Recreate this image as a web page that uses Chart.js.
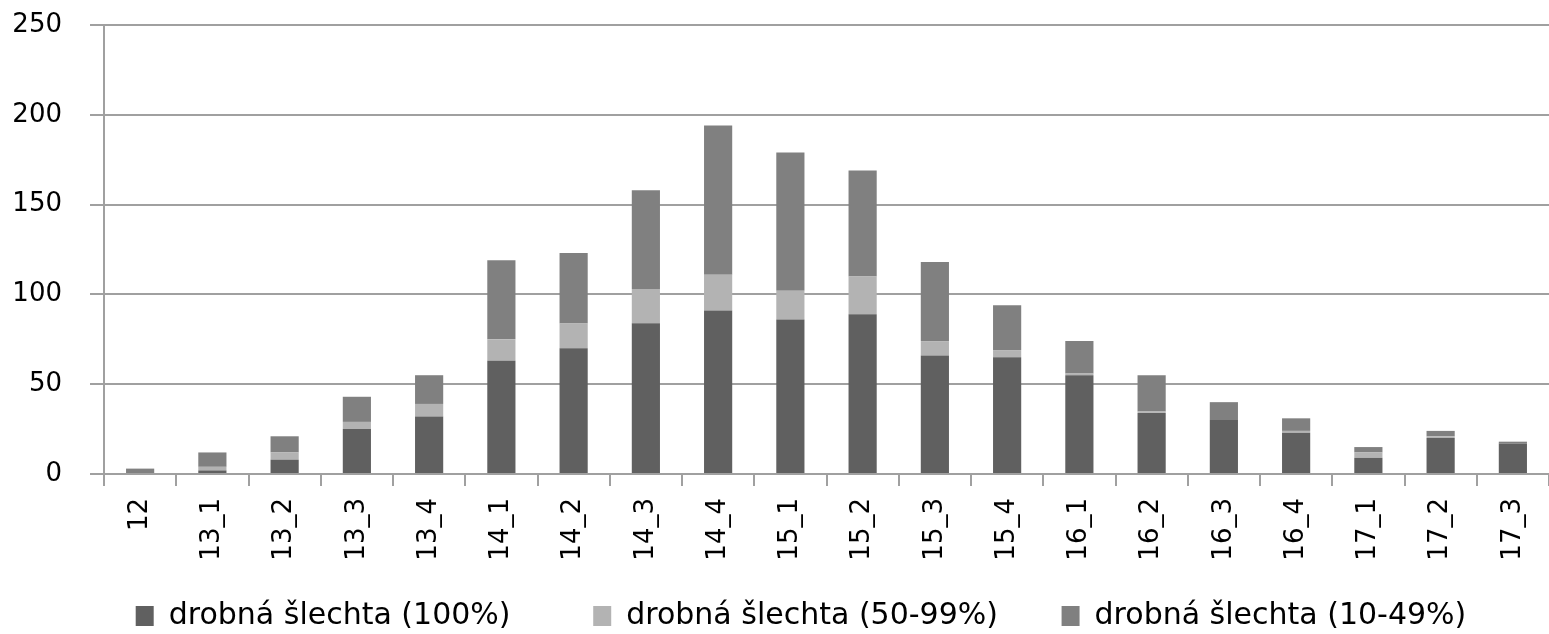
<!DOCTYPE html>
<html>
<head>
<meta charset="utf-8">
<script src="https://cdn.jsdelivr.net/npm/chart.js@4"></script>
<style>
  html, body { margin: 0; padding: 0; background: #fff; }
  #wrap { width: 1549px; height: 634px; }
</style>
</head>
<body>
<div id="wrap"><canvas id="chart"></canvas></div>
<script>
const LABELS = ["12", "13_1", "13_2", "13_3", "13_4", "14_1", "14_2", "14_3", "14_4", "15_1",
  "15_2", "15_3", "15_4", "16_1", "16_2", "16_3", "16_4", "17_1", "17_2", "17_3"];
const FULL = [0, 2, 8, 25, 32, 63, 70, 84, 91, 86, 89, 66, 65, 55, 34, 30, 23, 9, 20, 17];
const MOSTLY = [0, 2, 4, 4, 7, 12, 14, 19, 20, 16, 21, 8, 4, 1, 1, 0, 1, 3, 1, 0];
const PARTLY = [3, 8, 9, 14, 16, 44, 39, 55, 83, 77, 59, 44, 25, 18, 20, 10, 7, 3, 3, 1];
const SERIES_NAMES = ["drobná šlechta (100%)", "drobná šlechta (50-99%)", "drobná šlechta (10-49%)"];
const Y_TICKS = [0, 50, 100, 150, 200, 250];

const gridGray = "#a0a0a0";
const font = "'DejaVu Sans', Verdana, sans-serif";
// extra room after each legend entry (legend padding also sets its vertical offset)
const legendGaps = ["     ", "   ", "     "];

new Chart(document.getElementById("chart"), {
  type: "bar",
  data: {
    labels: LABELS,
    datasets: [
      { label: SERIES_NAMES[0], data: FULL, backgroundColor: "#606060" },
      { label: SERIES_NAMES[1], data: MOSTLY, backgroundColor: "#b3b3b3" },
      { label: SERIES_NAMES[2], data: PARTLY, backgroundColor: "#808080" }
    ]
  },
  options: {
    responsive: true,
    maintainAspectRatio: false,
    animation: false,
    datasets: { bar: { barPercentage: 0.39, categoryPercentage: 1 } },
    layout: { padding: { top: 25, right: 0, bottom: -7, left: 0 } },
    scales: {
      x: {
        stacked: true,
        grid: { drawOnChartArea: false, color: gridGray, lineWidth: 2, tickLength: 12 },
        border: { color: gridGray, width: 2 },
        ticks: {
          autoSkip: false, minRotation: 90, maxRotation: 90, padding: 12,
          color: "#000", font: { family: font, size: 26 }
        },
        afterFit: s => { s.height = 92; s.paddingLeft = 0; s.paddingRight = 0; }
      },
      y: {
        stacked: true,
        min: 0, max: 250,
        afterBuildTicks: s => { s.ticks = Y_TICKS.map(v => ({ value: v })); },
        grid: { color: gridGray, lineWidth: 2, tickLength: 14 },
        border: { color: gridGray, width: 2 },
        ticks: { padding: 28, color: "#000", font: { family: font, size: 26 } },
        afterFit: s => { s.width = 104; s.paddingTop = 0; s.paddingBottom = 0; }
      }
    },
    plugins: {
      tooltip: { enabled: false },
      legend: {
        position: "bottom",
        align: "end",
        labels: {
          boxWidth: 18, boxHeight: 20, padding: 35,
          color: "#000", font: { family: font, size: 30 },
          generateLabels: chart => Chart.defaults.plugins.legend.labels.generateLabels(chart)
            .map((item, i) => ({ ...item, text: item.text + legendGaps[i] }))
        }
      }
    }
  }
});
</script>
</body>
</html>
